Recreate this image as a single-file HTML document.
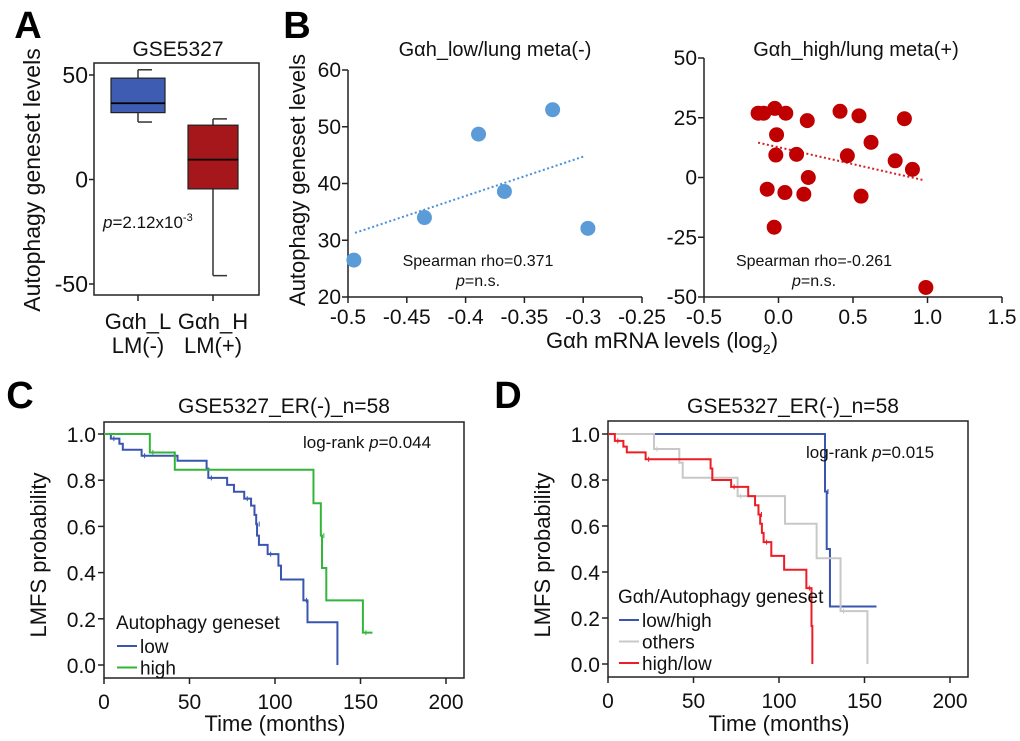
<!DOCTYPE html>
<html><head><meta charset="utf-8"><style>
html,body{margin:0;padding:0;background:#fff;}
svg{display:block;font-family:"Liberation Sans",Arial,sans-serif;}
</style></head><body>
<svg id="fig" width="1020" height="741" viewBox="0 0 1020 741" xmlns="http://www.w3.org/2000/svg"></svg>
<script>
// ---------- Panel A data ----------
const boxGroups = ["Gαh_L", "Gαh_H"];
const boxSub = ["LM(-)", "LM(+)"];
const boxQ1 = [32, -4.5];
const boxMed = [36.5, 9.5];
const boxQ3 = [48.5, 26];
const boxLo = [27.5, -46];
const boxHi = [52.5, 29];
const aTicks = [50, 0, -50];
// ---------- Panel B data ----------
const bLowX = [-0.495, -0.435, -0.389, -0.367, -0.326, -0.296];
const bLowY = [26.5, 34, 48.7, 38.6, 53, 32.1];
const bLowTrendX = [-0.494, -0.299];
const bLowTrendY = [31.3, 44.8];
const bLowXTicks = [-0.5, -0.45, -0.4, -0.35, -0.3, -0.25];
const bLowYTicks = [20, 30, 40, 50, 60];
const bHighX = [-0.137,-0.099,-0.025,0.049,0.193,-0.013,0.413,0.540,0.845,0.621,-0.018,0.121,0.462,0.783,0.899,0.200,-0.076,0.043,0.170,0.554,-0.029,0.989];
const bHighY = [26.9,26.9,28.9,26.9,23.8,17.9,27.7,25.8,24.6,14.7,9.4,9.7,9.1,7.0,3.4,0.0,-4.9,-6.3,-7.0,-7.8,-20.8,-46.0];
const bHighTrendX = [-0.137, 0.973];
const bHighTrendY = [14.6, -1.1];
const bHighXTicks = [-0.5, 0, 0.5, 1.0, 1.5];
const bHighXLabels = ["-0.5","0.0","0.5","1.0","1.5"];
const bHighYTicks = [50, 25, 0, -25, -50];
// ---------- Panel C data (step times / survival) ----------
const cLowT = [0,4,9,11,22,43,60,61,72,76,82,86,88,89,89.5,90.6,95.7,102,103.5,116.6,119,136.5];
const cLowS = [1,0.98,0.958,0.932,0.906,0.884,0.85,0.81,0.78,0.75,0.72,0.69,0.65,0.61,0.56,0.52,0.48,0.43,0.37,0.28,0.185,0];
const cHighT = [0,26.8,41.4,122.5,126.8,127.5,130,151.4,157];
const cHighS = [1,0.92,0.845,0.70,0.56,0.42,0.28,0.14,0.14];
const kmXTicks = [0,50,100,150,200];
const kmYTicks = [0,0.2,0.4,0.6,0.8,1.0];
// ---------- Panel D data ----------
const dBlueT = [0,126.9,127.9,129.8,157];
const dBlueS = [1,0.75,0.5,0.25,0.25];
const dGrayT = [0,26.9,41.7,43.7,75.8,103.5,122,136,151.7];
const dGrayS = [1,0.935,0.875,0.81,0.73,0.61,0.46,0.23,0];
const dRedT = [0,4,9,11,22,60,61,72,82,86,88,89,90,91,95.5,103,116,119,119.5];
const dRedS = [1,0.97,0.945,0.92,0.89,0.85,0.80,0.77,0.73,0.69,0.65,0.61,0.57,0.53,0.47,0.41,0.33,0.165,0];

const NS = "http://www.w3.org/2000/svg";
const svg = document.getElementById('fig');
function el(tag, attrs, parent, txt) {
  const e = document.createElementNS(NS, tag);
  for (const k in attrs) e.setAttribute(k, attrs[k]);
  if (txt !== undefined) e.textContent = txt;
  (parent || svg).appendChild(e);
  return e;
}
function lin(d0, d1, r0, r1) { return v => r0 + (v - d0) * (r1 - r0) / (d1 - d0); }
function txt(x, y, s, size, anchor, parent, extra) {
  const a = {x: x, y: y, 'font-size': size, 'text-anchor': anchor || 'middle', fill: '#111'};
  if (extra) for (const k in extra) a[k] = extra[k];
  return el('text', a, parent, s);
}

// panel letters
[["A",28,38],["B",297,38],["C",20,408],["D",508,408]].forEach(p => {
  const t = txt(p[1], p[2], p[0], 38, 'middle', svg, {'font-weight': 'bold', fill: '#000'});
  
  
});

// ---------- Panel A ----------
(function () {
  const g = el('g', {});
  
  
  const y = lin(50, -50, 75, 284);
  el('rect', {x: 94, y: 63, width: 165, height: 232, fill: 'none', stroke: '#222', 'stroke-width': 1.5}, g);
  const t = txt(178, 56, 'GSE5327', 21, 'middle', g);
  
  
  aTicks.forEach(v => {
    el('line', {x1: 89, x2: 94, y1: y(v), y2: y(v), stroke: '#222', 'stroke-width': 1.5}, g);
    const tl = txt(88, y(v) + 8, String(v), 23, 'end', g);
    
    
  });
  const centers = [138, 213], widths = [54, 50], colors = ['#3f5cb3', '#a5171b'];
  boxGroups.forEach((name, i) => {
    const cx = centers[i], w = widths[i];
    el('line', {x1: cx, x2: cx, y1: y(boxHi[i]), y2: y(boxLo[i]), stroke: '#333', 'stroke-width': 1.5}, g);
    el('line', {x1: cx, x2: cx + 14, y1: y(boxHi[i]), y2: y(boxHi[i]), stroke: '#333', 'stroke-width': 1.5}, g);
    el('line', {x1: cx, x2: cx + 14, y1: y(boxLo[i]), y2: y(boxLo[i]), stroke: '#333', 'stroke-width': 1.5}, g);
    const r = el('rect', {x: cx - w / 2, y: y(boxQ3[i]), width: w, height: y(boxQ1[i]) - y(boxQ3[i]), fill: colors[i], stroke: '#222', 'stroke-width': 1.2}, g);
    
    
    el('line', {x1: cx - w / 2, x2: cx + w / 2, y1: y(boxMed[i]), y2: y(boxMed[i]), stroke: '#000', 'stroke-width': 1.8}, g);
    el('line', {x1: cx, x2: cx, y1: 295, y2: 301, stroke: '#222', 'stroke-width': 1.5}, g);
    const l1 = txt(cx, 329, name, 22, 'middle', g);
    
    
    txt(cx, 353, boxSub[i], 22, 'middle', g);
  });
  const p = el('text', {x: 103, y: 228, 'font-size': 17, fill: '#111'}, g);
  el('tspan', {'font-style': 'italic'}, p, 'p');
  el('tspan', {}, p, '=2.12x10');
  el('tspan', {'font-size': 11, dy: -7}, p, '-3');
  
  
  const yl = txt(0, 0, 'Autophagy geneset levels', 23, 'middle', g, {transform: 'translate(40,180) rotate(-90)'});
  
  
})();

// ---------- Panel B scatter ----------
function scatter(opts) {
  const g = el('g', {});
  
  
  const x = lin(opts.xd[0], opts.xd[1], opts.x0, opts.x1);
  const y = lin(opts.yd[0], opts.yd[1], opts.y0, opts.y1);
  el('line', {x1: opts.x0, x2: opts.x0, y1: opts.y1, y2: opts.y0, stroke: '#222', 'stroke-width': 1.5}, g);
  el('line', {x1: opts.x0, x2: opts.x1, y1: opts.y0, y2: opts.y0, stroke: '#222', 'stroke-width': 1.5}, g);
  opts.xt.forEach((v, i) => {
    el('line', {x1: x(v), x2: x(v), y1: opts.y0, y2: opts.y0 + 6, stroke: '#222', 'stroke-width': 1.5}, g);
    const t = txt(x(v), opts.y0 + 27, opts.xl ? opts.xl[i] : String(v), 21, 'middle', g);
    
    
  });
  opts.yt.forEach(v => {
    el('line', {x1: opts.x0 - 6, x2: opts.x0, y1: y(v), y2: y(v), stroke: '#222', 'stroke-width': 1.5}, g);
    const t = txt(opts.x0 - 7, y(v) + 7, String(v), 21, 'end', g);
    
    
  });
  const tl = el('line', {x1: x(opts.tx[0]), x2: x(opts.tx[1]), y1: y(opts.ty[0]), y2: y(opts.ty[1]), stroke: opts.lc, 'stroke-width': 2, 'stroke-dasharray': '2,2.5'}, g);
  
  
  opts.px.forEach((v, i) => {
    const c = el('circle', {cx: x(v), cy: y(opts.py[i]), r: 7.5, fill: opts.color}, g);
    
    
  });
  const t = txt(opts.titleX, 56, opts.title, 20, 'middle', g);
  
  
  const s = txt(opts.sx, 266, opts.stat, 16, 'middle', g);
  
  
  const p = el('text', {x: opts.sx, y: 286, 'font-size': 16, 'text-anchor': 'middle', fill: '#111'}, g);
  el('tspan', {'font-style': 'italic'}, p, 'p');
  el('tspan', {}, p, '=n.s.');
  return g;
}
scatter({name: 'panel-b-low-scatter', xd: [-0.5, -0.25], yd: [20, 60], x0: 348, x1: 642, y0: 297, y1: 70,
  xt: bLowXTicks, yt: bLowYTicks, px: bLowX, py: bLowY, tx: bLowTrendX, ty: bLowTrendY,
  color: '#5a9bd8', lc: '#4a90d9', title: 'Gαh_low/lung meta(-)', titleX: 495, stat: 'Spearman rho=0.371', sx: 478});
scatter({name: 'panel-b-high-scatter', xd: [-0.5, 1.5], yd: [-50, 50], x0: 704, x1: 1002, y0: 297, y1: 58,
  xt: bHighXTicks, xl: bHighXLabels, yt: bHighYTicks, px: bHighX, py: bHighY, tx: bHighTrendX, ty: bHighTrendY,
  color: '#c00000', lc: '#d42020', title: 'Gαh_high/lung meta(+)', titleX: 856, stat: 'Spearman rho=-0.261', sx: 814});
(function () {
  const yl = txt(0, 0, 'Autophagy geneset levels', 22, 'middle', svg, {transform: 'translate(305,180) rotate(-90)'});
  
  
  const xl = el('text', {x: 662, y: 348, 'font-size': 22, 'text-anchor': 'middle', fill: '#111'});
  xl.appendChild(document.createTextNode('Gαh mRNA levels (log'));
  el('tspan', {'font-size': 14, dy: 6}, xl, '2');
  el('tspan', {dy: -6}, xl, ')');
  
  
})();

// ---------- KM panels ----------
function km(opts) {
  const g = el('g', {});
  
  
  const x = lin(0, 200, opts.xz, opts.x200);
  const y = lin(0, 1, opts.y0, opts.y1);
  el('rect', {x: opts.fx, y: opts.fy, width: opts.fw, height: opts.fh, fill: 'none', stroke: '#222', 'stroke-width': 1.5}, g);
  kmXTicks.forEach(v => {
    el('line', {x1: x(v), x2: x(v), y1: opts.fy + opts.fh, y2: opts.fy + opts.fh + 6, stroke: '#222', 'stroke-width': 1.5}, g);
    const t = txt(x(v), opts.fy + opts.fh + 31, String(v), 21, 'middle', g);
    
    
  });
  kmYTicks.forEach(v => {
    el('line', {x1: opts.fx - 6, x2: opts.fx, y1: y(v), y2: y(v), stroke: '#222', 'stroke-width': 1.5}, g);
    const t = txt(opts.fx - 8, y(v) + 8, v.toFixed(1), 21, 'end', g);
    
    
  });
  opts.series.forEach(s => {
    let d = 'M' + x(s.t[0]) + ',' + y(s.s[0]);
    for (let i = 1; i < s.t.length; i++) d += 'H' + x(s.t[i]) + 'V' + y(s.s[i]);
    const p = el('path', {d: d, fill: 'none', stroke: s.c, 'stroke-width': 2}, g);
    
    
    for (let i = 1; i < s.t.length - 1; i += 3) {
      el('line', {x1: x(s.t[i]) + 3, x2: x(s.t[i]) + 3, y1: y(s.s[i]) - 2.5, y2: y(s.s[i]) + 2.5, stroke: s.c, 'stroke-width': 1}, g);
    }
  });
  const t = txt(opts.tx, 413, 'GSE5327_ER(-)_n=58', 21, 'middle', g);
  
  
  const lr = el('text', {x: opts.lrx, y: opts.lry, 'font-size': 17, fill: '#111'}, g);
  lr.appendChild(document.createTextNode('log-rank '));
  el('tspan', {'font-style': 'italic'}, lr, 'p');
  lr.appendChild(document.createTextNode('=' + opts.p));
  
  
  const yl = txt(0, 0, 'LMFS probability', 22, 'middle', g, {transform: 'translate(' + opts.ylx + ',555) rotate(-90)'});
  
  
  const xl = txt(opts.xlx, 731, 'Time (months)', 22, 'middle', g);
  
  
  const lt = txt(opts.lgx, opts.lgy, opts.lgTitle, 19, 'start', g);
  
  
  opts.series.forEach((s, i) => {
    const yy = opts.lgy + 17 + i * 21.5;
    const ln = el('line', {x1: opts.lgx + 1, x2: opts.lgx + 21, y1: yy, y2: yy, stroke: s.c, 'stroke-width': 2}, g);
    
    
    const lx = txt(opts.lgx + 24, yy + 7, s.label, 19, 'start', g);
    
    
  });
}
km({name: 'panel-c-km', xz: 104, x200: 446, y0: 665, y1: 434, fx: 104, fy: 422, fw: 360, fh: 256,
  series: [{t: cLowT, s: cLowS, c: '#3a55b0', n: 'low', label: 'low'}, {t: cHighT, s: cHighS, c: '#33b53a', n: 'high', label: 'high'}],
  tx: 284, lrx: 303, lry: 448, p: '0.044', ylx: 46, xlx: 275, lgx: 116, lgy: 629, lgTitle: 'Autophagy geneset'});
km({name: 'panel-d-km', xz: 608, x200: 950, y0: 664, y1: 434, fx: 608, fy: 421, fw: 360, fh: 256,
  series: [{t: dBlueT, s: dBlueS, c: '#3a55b0', n: 'low-high', label: 'low/high'},
           {t: dGrayT, s: dGrayS, c: '#c8c8c8', n: 'others', label: 'others'},
           {t: dRedT, s: dRedS, c: '#ee1c25', n: 'high-low', label: 'high/low'}],
  tx: 793, lrx: 806, lry: 458, p: '0.015', ylx: 550, xlx: 779, lgx: 618, lgy: 603, lgTitle: 'Gαh/Autophagy geneset'});
</script>
</body></html>
